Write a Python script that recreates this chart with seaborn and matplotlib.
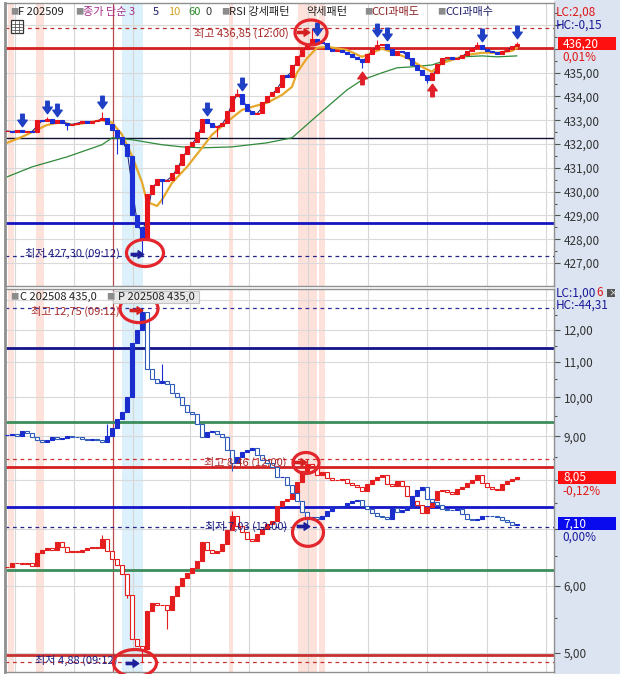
import numpy as np
import pandas as pd
import matplotlib
matplotlib.use("Agg")
import matplotlib.pyplot as plt
import matplotlib.transforms as mtransforms
from matplotlib.patches import Rectangle, Ellipse
from matplotlib.path import Path
from matplotlib.ticker import FixedLocator, FuncFormatter, NullFormatter
import seaborn as sns

# ---------------- futures F 202509 ----------------
fut_close = [432.55, 432.50, 432.60, 432.50, 432.55, 432.50, 433.00, 432.95, 433.05, 432.90,
             433.00, 432.90, 432.80, 432.85, 432.90, 432.95, 432.90, 432.95, 433.00, 433.10,
             432.85, 432.60, 432.30, 432.00, 431.50, 429.00, 428.50, 428.00, 429.90, 430.30,
             430.55, 430.45, 430.50, 430.80, 431.10, 431.60, 431.90, 432.10, 432.50, 433.05,
             432.90, 432.70, 432.75, 432.90, 433.40, 434.00, 434.10, 433.70, 433.40, 433.25,
             433.30, 433.75, 434.00, 434.20, 434.40, 434.90, 434.80, 435.30, 435.70, 436.00,
             436.20, 436.40, 436.30, 436.25, 436.00, 435.90, 435.95, 435.85, 435.80, 435.65,
             435.55, 435.45, 435.80, 436.00, 436.15, 436.20, 436.00, 435.75, 435.90, 435.85,
             435.60, 435.30, 435.10, 434.90, 434.70, 435.00, 435.35, 435.60, 435.65, 435.55,
             435.60, 435.75, 435.90, 436.05, 436.15, 436.00, 435.90, 435.85, 435.80, 435.90,
             436.00, 436.10, 436.20]
fut_hi_spikes = [(8, 433.15), (19, 433.35), (46, 434.30), (61, 436.85), (74, 436.35), (94, 436.30), (102, 436.30)]
fut_lo_spikes = [(12, 432.60), (22, 431.60), (27, 427.30), (31, 429.50), (42, 432.30), (71, 435.20), (84, 434.55)]
fut_sig_down = [3, 8, 10, 19, 40, 47, 62, 74, 76, 95, 102]
fut_sig_up = [71, 85]

ma10_bar = [0, 3, 5, 8, 11, 13, 17, 19, 21, 23, 25, 27, 28, 30, 31, 33, 36, 39, 41, 44, 47, 49,
            52, 55, 57, 58, 60, 62, 64, 68, 71, 73, 75, 77, 80, 83, 85, 87, 89, 92, 95, 98, 101, 102]
ma10_val = [432.05, 432.30, 432.50, 432.80, 432.93, 432.80, 432.93, 433.00, 432.90, 432.40, 431.50,
            430.40, 429.57, 429.40, 429.66, 430.37, 431.04, 431.84, 432.39, 432.93, 433.43, 433.56,
            433.73, 434.06, 434.40, 435.00, 435.60, 436.04, 436.08, 435.95, 435.66, 435.83, 436.00,
            435.87, 435.62, 435.24, 435.03, 435.40, 435.53, 435.74, 435.83, 435.83, 435.91, 436.04]
ma60_bar = [0, 5, 12, 19, 21, 25, 31, 35, 39, 45, 52, 57, 61, 65, 68, 71, 75, 78, 81, 85, 88, 91, 95, 98, 102]
ma60_val = [430.62, 431.04, 431.46, 431.97, 432.26, 432.18, 431.97, 431.88, 431.84, 431.88, 432.05,
            432.26, 433.00, 433.73, 434.27, 434.69, 434.99, 435.20, 435.24, 435.32, 435.53, 435.66,
            435.70, 435.66, 435.70]
fut_levels = {"red": 436.05, "black": 432.25, "blue": 428.68}
fut_high, fut_high_bar, fut_high_time = 436.85, 61, "12:00"
fut_low, fut_low_bar, fut_low_time = 427.30, 27, "09:12"
fut_last, fut_chg = 436.20, "0,01%"

# ---------------- options C / P 202508 435.0 ----------------
call_close = [6.31, 6.38, 6.39, 6.36, 6.38, 6.33, 6.55, 6.62, 6.64, 6.62,
              6.76, 6.66, 6.58, 6.60, 6.58, 6.62, 6.65, 6.67, 6.65, 6.82,
              6.60, 6.45, 6.35, 6.20, 5.85, 5.20, 5.10, 5.05, 5.60, 5.72,
              5.70, 5.70, 5.62, 5.84, 6.00, 6.12, 6.22, 6.30, 6.42, 6.75,
              6.62, 6.56, 6.60, 6.72, 6.98, 7.25, 7.05, 6.95, 6.82, 6.78,
              6.90, 7.00, 7.10, 7.15, 7.45, 7.55, 7.60, 7.70, 7.95, 8.20,
              8.35, 8.30, 8.10, 8.16, 8.03, 8.00, 7.99, 8.02, 7.93, 7.88,
              7.84, 7.76, 7.90, 7.99, 8.05, 8.10, 7.90, 7.86, 7.98, 7.86,
              7.65, 7.55, 7.46, 7.30, 7.42, 7.57, 7.75, 7.78, 7.73, 7.70,
              7.80, 7.85, 7.92, 7.99, 8.10, 7.93, 7.85, 7.80, 7.78, 7.90,
              7.98, 8.02, 8.05]
call_hi_spikes = [(19, 6.88), (45, 7.35), (60, 8.46)]
call_lo_spikes = [(24, 5.80), (27, 4.88), (32, 5.33)]
put_close = [9.03, 9.05, 9.00, 9.12, 9.08, 8.98, 8.90, 8.85, 8.90, 8.98,
             8.93, 8.95, 9.00, 8.98, 8.97, 8.93, 8.90, 8.93, 8.90, 8.86,
             9.00, 9.20, 9.44, 9.60, 10.00, 11.60, 12.00, 12.60, 10.80, 10.50,
             10.40, 10.45, 10.38, 10.13, 10.00, 9.78, 9.60, 9.55, 9.30, 8.98,
             9.10, 9.12, 9.05, 8.98, 8.66, 8.37, 8.50, 8.62, 8.66, 8.72,
             8.55, 8.43, 8.37, 8.28, 8.05, 8.06, 7.88, 7.72, 7.55, 7.33,
             7.20, 7.22, 7.20, 7.25, 7.35, 7.42, 7.43, 7.45, 7.50, 7.55,
             7.57, 7.45, 7.38, 7.30, 7.25, 7.23, 7.20, 7.40, 7.33, 7.37,
             7.43, 7.65, 7.78, 7.85, 7.60, 7.52, 7.47, 7.38, 7.37, 7.36,
             7.38, 7.28, 7.20, 7.18, 7.20, 7.25, 7.25, 7.24, 7.23, 7.18,
             7.13, 7.08, 7.10]
put_hi_spikes = [(20, 9.30), (27, 12.75), (31, 10.95)]
put_lo_spikes = [(45, 8.20), (60, 7.03)]
opt_levels = {"navy": 11.42, "green_hi": 9.34, "red_hi": 8.27, "blue": 7.43, "green_lo": 6.27, "red_lo": 4.97}
put_high, put_high_bar, put_high_time = 12.75, 27, "09:12"
call_low, call_low_bar, call_low_time = 4.88, 27, "09:12"
call_high, call_high_bar, call_high_time = 8.46, 60, "12:00"
put_low, put_low_bar, put_low_time = 7.03, 60, "12:00"
call_last, call_chg = 8.05, "-0,12%"
put_last, put_chg = 7.10, "0,00%"

# ---------------- figure setup ----------------
sns.set_theme(style="white")
plt.rcParams['font.family'] = ['Noto Sans CJK KR', 'DejaVu Sans']
plt.rcParams['axes.unicode_minus'] = False

W, H = 620, 674
fig = plt.figure(figsize=(W / 100, H / 100), dpi=100)
fig.patch.set_facecolor("white")


def fx(px):
    return px / W


def fy(py):
    return 1 - py / H


STRIP = "#dbe4f0"
fig.add_artist(Rectangle((fx(554), 0), 1 - fx(554), 1, transform=fig.transFigure,
                         facecolor=STRIP, edgecolor="none", zorder=0))

ax1 = fig.add_axes([fx(5), fy(286), fx(554) - fx(5), (286 - 3) / H])
ax2 = fig.add_axes([fx(5), fy(672), fx(554) - fx(5), (672 - 289) / H])


def scale_formatter(hidden):
    # tick labels that sit under a price tag or header text are left blank
    def f(v, p):
        if any(abs(v - h) < 1e-9 for h in hidden):
            return ""
        return f"{v:.2f}".replace(".", ",")
    return FuncFormatter(f)


XLIM = (-0.4, 109.4)
time_grid = [1.6, 13.4, 25.2, 36.6, 48.4, 60.2, 72.2, 84.0, 96.0, 107.8]
pink_bands = [(0.2, 1.4), (5.8, 7.4), (44.4, 45.2), (58.2, 62.0), (62.4, 63.6)]
blue_band = (23.0, 27.2)
open_line = 21.2

for ax in (ax1, ax2):
    ax.set_facecolor("white")
    ax.set_xlim(*XLIM)
    ax.set_xticks([])
    for s in ax.spines.values():
        s.set_color("#8f8f8f")
        s.set_linewidth(1.0)
    ax.spines["left"].set_linewidth(2.0)
    ax.yaxis.tick_right()
    ax.tick_params(axis="y", which="major", length=4, width=0.8, direction="out",
                   color="#555555", labelsize=8.5, labelcolor="#333333", pad=3)
    ax.tick_params(axis="y", which="minor", length=2, width=0.8, direction="out", color="#555555")
    for a, b in pink_bands:
        ax.axvspan(a, b, color="#fde2db", lw=0, zorder=0.2)
    ax.axvspan(*blue_band, color="#dcf1fb", lw=0, zorder=0.2)
    for g in time_grid:
        ax.axvline(g, color="#d6d6d6", lw=0.8, zorder=0.4)
    ax.axvline(open_line, color="#b84a4a", lw=0.9, zorder=0.5)

# top price scale
ax1.set_ylim(426.04, 437.92)
top_ticks = list(range(427, 438))
ax1.yaxis.set_major_locator(FixedLocator(top_ticks))
ax1.yaxis.set_minor_locator(FixedLocator([t + 0.5 for t in top_ticks]))
ax1.yaxis.set_major_formatter(scale_formatter([436, 437]))
for t in top_ticks:
    ax1.axhline(t, color="#d9d9d9", lw=0.8, zorder=0.4)

# bottom price scale (log)
ax2.set_yscale("log")
ax2.set_ylim(4.75, 13.41)
bot_ticks = list(range(5, 13))
ax2.yaxis.set_major_locator(FixedLocator(bot_ticks))
ax2.yaxis.set_minor_locator(FixedLocator([t + 0.5 for t in range(4, 13)]))
ax2.yaxis.set_major_formatter(scale_formatter([7, 8]))
ax2.yaxis.set_minor_formatter(NullFormatter())
for t in bot_ticks + [13]:
    ax2.axhline(t, color="#d9d9d9", lw=0.8, zorder=0.4)


def draw_candles(ax, close, hi_spikes, lo_spikes, up_col, dn_col, up_face, dn_face, width):
    c = np.asarray(close, float)
    o = np.r_[c[0], c[:-1]]
    hi = np.maximum(o, c)
    lo = np.minimum(o, c)
    for i, v in hi_spikes:
        hi[i] = max(hi[i], v)
    for i, v in lo_spikes:
        lo[i] = min(lo[i], v)
    x = np.arange(len(c))
    up = c >= o
    ax.vlines(x, lo, hi, colors=np.where(up, up_col, dn_col), lw=0.8, zorder=3)
    ax.bar(x[up], (c - o)[up], bottom=o[up], width=width, color=up_face,
           edgecolor=up_col, linewidth=0.8, zorder=4)
    ax.bar(x[~up], (c - o)[~up], bottom=o[~up], width=width, color=dn_face,
           edgecolor=dn_col, linewidth=0.8, zorder=4)
    return hi, lo


# ---------------- top panel ----------------
lv = fut_levels
ax1.axhline(lv["red"], color="#d42020", lw=2.0, zorder=1)
ax1.axhline(lv["black"], color="#101030", lw=1.0, zorder=1)
ax1.axhline(lv["blue"], color="#1414c0", lw=2.0, zorder=1)

sns.lineplot(x=ma60_bar, y=ma60_val, ax=ax1, color="#2f8a3a", lw=0.9, zorder=2,
             estimator=None, sort=False)
sns.lineplot(x=ma10_bar, y=ma10_val, ax=ax1, color="#e6a82a", lw=1.6, zorder=2,
             estimator=None, sort=False)
ma_fast = pd.Series(fut_close).rolling(2, min_periods=1).mean()
sns.lineplot(x=np.arange(len(fut_close)), y=ma_fast.values, ax=ax1, color="#1c1c70",
             lw=0.7, zorder=2.5, estimator=None, sort=False)

fhi, flo = draw_candles(ax1, fut_close, fut_hi_spikes, fut_lo_spikes,
                        "#e8141c", "#1a2fd6", "#e8141c", "#1a2fd6", 0.62)

# signal arrows
down_arrow = Path([(-0.28, 1), (0.28, 1), (0.28, 0.05), (0.75, 0.05), (0, -1),
                   (-0.75, 0.05), (-0.28, 0.05), (-0.28, 1)],
                  [Path.MOVETO] + [Path.LINETO] * 6 + [Path.CLOSEPOLY])
up_arrow = Path([(x, -y) for x, y in down_arrow.vertices], down_arrow.codes)
right_arrow = Path([(-1, -0.18), (0.1, -0.18), (0.1, -0.6), (1, 0), (0.1, 0.6),
                    (0.1, 0.18), (-1, 0.18), (-1, -0.18)],
                   [Path.MOVETO] + [Path.LINETO] * 6 + [Path.CLOSEPOLY])

for i in fut_sig_down:
    ax1.plot(i, fhi[i] + 0.42, marker=down_arrow, ms=9, color="#1f3fc4", zorder=6)
for i in fut_sig_up:
    ax1.plot(i, flo[i] - 0.42, marker=up_arrow, ms=9, color="#e0202a", zorder=6)

# ---------------- bottom panel ----------------
ol = opt_levels
ax2.axhline(ol["navy"], color="#14148c", lw=2.0, zorder=1)
ax2.axhline(ol["green_hi"], color="#3d8c5c", lw=2.0, zorder=1)
ax2.axhline(ol["red_hi"], color="#d42020", lw=2.0, zorder=1)
ax2.axhline(ol["blue"], color="#1414c8", lw=2.0, zorder=1)
ax2.axhline(ol["green_lo"], color="#3d8c5c", lw=2.0, zorder=1)
ax2.axhline(ol["red_lo"], color="#c83030", lw=2.0, zorder=1)

draw_candles(ax2, call_close, call_hi_spikes, call_lo_spikes,
             "#e41e1e", "#e41e1e", "#e41e1e", "white", 0.72)
draw_candles(ax2, put_close, put_hi_spikes, put_lo_spikes,
             "#1a2dcc", "#2f5cb8", "#1a2dcc", "white", 0.72)

HI_TXT = "#a82a2a"
LO_TXT = "#1e1e80"
RING = "#e2262b"


def mark_extreme(ax, bar, val, label, line_col, arrow_col, txt_col,
                 ring_w, ring_h, ring_dx, ring_dy, arrow_dx, arrow_dy, txt_dx, txt_dy):
    ax.axhline(val, color=line_col, lw=0.9, ls=(0, (3, 3)), zorder=1.5)
    ax.annotate(label, xy=(bar, val), xytext=(txt_dx, txt_dy), textcoords="offset pixels",
                ha="right", va="center", color=txt_col, fontsize=8, zorder=7)
    at = mtransforms.offset_copy(ax.transData, fig=fig, x=arrow_dx, y=arrow_dy, units="dots")
    ax.plot(bar, val, marker=right_arrow, ms=9, color=arrow_col, transform=at, zorder=7)
    tr = fig.dpi_scale_trans + mtransforms.ScaledTranslation(bar, val, ax.transData)
    ax.add_patch(Ellipse((ring_dx / 100, ring_dy / 100), ring_w / 100, ring_h / 100,
                         transform=tr, fill=False, edgecolor=RING, lw=2.3, zorder=8, clip_on=False))


def fmt(v):
    return f"{v:.2f}".replace(".", ",")


mark_extreme(ax1, fut_high_bar, fut_high, f"최고 {fmt(fut_high)} ({fut_high_time})",
             "#c03030", "#d42020", HI_TXT, 32, 25, -1, -4, -9, -4, -23, -5)
mark_extreme(ax1, fut_low_bar, fut_low, f"최저 {fmt(fut_low)} ({fut_low_time})",
             "#23238a", "#1e1e9a", LO_TXT, 37, 27, 3, 3, -5, 2, -22, 3)
mark_extreme(ax2, put_high_bar, put_high, f"최고 {fmt(put_high)} ({put_high_time})",
             "#2e2ea0", "#d42020", HI_TXT, 38, 28, -3, -1, -6, -2, -22, -4)
mark_extreme(ax2, call_low_bar, call_low, f"최저 {fmt(call_low)} ({call_low_time})",
             "#c83030", "#1e1e9a", LO_TXT, 43, 27, -7, -1, -10, -1, -24, 2)
mark_extreme(ax2, call_high_bar, call_high, f"최고 {fmt(call_high)} ({call_high_time})",
             "#d03030", "#d42020", HI_TXT, 26, 21, -1, -4, -7, -3, -20, -3)
mark_extreme(ax2, put_low_bar, put_low, f"최저 {fmt(put_low)} ({put_low_time})",
             "#23238a", "#1e1e9a", LO_TXT, 31, 28, 1, -5, -4, 1, -20, 1)


# ---------------- price tags on the scale strip ----------------
def price_tag(ax, val, text, box_col, sub, sub_col):
    base = mtransforms.blended_transform_factory(ax.transAxes, ax.transData)
    tr = fig.dpi_scale_trans + mtransforms.ScaledTranslation(1.0, val, base)
    fig.add_artist(Rectangle((4 / 100, -6.5 / 100), 58 / 100, 13 / 100, transform=tr,
                             facecolor=box_col, edgecolor="none", zorder=10))
    fig.add_artist(plt.Text(9 / 100, 0, text, transform=tr, color="white", fontsize=8.5,
                            ha="left", va="center", zorder=11))
    fig.add_artist(plt.Text(8 / 100, -13.5 / 100, sub, transform=tr, color=sub_col,
                            fontsize=8.5, ha="left", va="center", zorder=11))


price_tag(ax1, fut_last, fmt(fut_last), "#ff1010", fut_chg, "#e01818")
price_tag(ax2, call_last, fmt(call_last), "#ff1010", call_chg, "#e01818")
price_tag(ax2, put_last, fmt(put_last), "#0a0aee", put_chg, "#1a1aa0")


def ftext(px, py, s, color, size=8, **kw):
    return fig.text(fx(px), fy(py), s, color=color, fontsize=size, ha="left", va="center",
                    zorder=12, **kw)


ftext(556, 12, "LC:2,08", "#e01818", 8.5)
ftext(556, 25, "HC:-0,15", "#1a1a9a", 8.5)
lc_txt = ftext(556, 293, "LC:1,00", "#1a1a9a", 8.5)
ax2.annotate("6", xy=(1, 0.5), xycoords=lc_txt, xytext=(0, 0), textcoords="offset points",
             ha="left", va="center", color="#e01818", fontsize=8.5, annotation_clip=False,
             zorder=12)
ftext(556, 305, "HC:-44,31", "#1a1a9a", 8.5)
fig.add_artist(Rectangle((fx(607), fy(297)), 8 / W, 8 / H, transform=fig.transFigure,
                         facecolor="#555555", edgecolor="none", zorder=12))
ftext(608, 293, "×", "white", 6.5)

# ---------------- legends ----------------
SQ = "#8c8c8c"
top_items = [(10, "■", SQ, 6), (18, "F 202509", "#222222", 8), (75, "■", SQ, 6),
             (83, "종가 단순 3", "#a8308c", 8), (153, "5", "#1c1c6a", 8),
             (168, "10", "#d6a21e", 8), (188, "60", "#2a8a2a", 8), (206, "0", "#333333", 8),
             (221, "■", SQ, 6), (229, "RSI 강세패턴", "#222222", 8), (306, "약세패턴", "#222222", 8),
             (364, "■", SQ, 6), (371, "CCI과매도", "#8b1c1c", 8), (437, "■", SQ, 6),
             (445, "CCI과매수", "#1c1c6b", 8)]
for px, s, col, size in top_items:
    ftext(px, 12, s, col, size)

# small table icon
fig.add_artist(Rectangle((fx(11), fy(33)), 12 / W, 13 / H, transform=fig.transFigure,
                         facecolor="white", edgecolor="#333333", lw=0.9, zorder=12))
for py in (24, 27, 30):
    fig.add_artist(plt.Line2D([fx(12), fx(22)], [fy(py), fy(py)], transform=fig.transFigure,
                              color="#555555", lw=0.6, zorder=13))
for px in (15, 19):
    fig.add_artist(plt.Line2D([fx(px), fx(px)], [fy(21), fy(33)], transform=fig.transFigure,
                              color="#555555", lw=0.6, zorder=13))

fig.add_artist(Rectangle((fx(113), fy(303)), 86 / W, 12 / H, transform=fig.transFigure,
                         facecolor="#e8e8e8", edgecolor="#c4c4c4", lw=0.8, zorder=11))
ftext(10, 297, "■", SQ, 6)
ftext(20, 297, "C 202508 435,0", "#222222", 8)
ftext(106, 297, "■", SQ, 6)
ftext(118, 297, "P 202508 435,0", "#222222", 8)

fig.savefig("out.png", dpi=100, facecolor=fig.get_facecolor())
